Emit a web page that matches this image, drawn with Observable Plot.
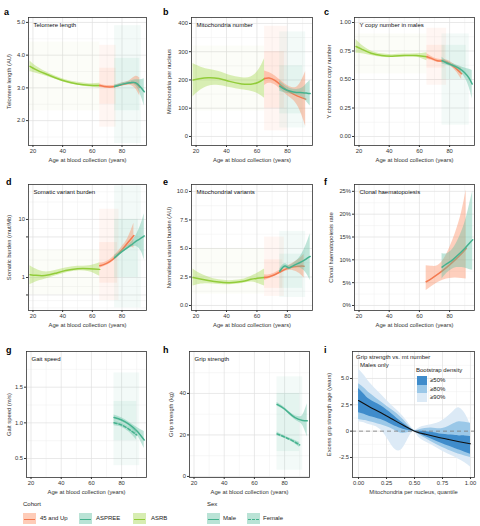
<!DOCTYPE html>
<html><head><meta charset="utf-8">
<script src="https://cdn.jsdelivr.net/npm/d3@7"></script>
<script src="https://cdn.jsdelivr.net/npm/@observablehq/plot@0.6"></script>
<style>
body{margin:0;background:#fff;}
#fig{position:relative;width:480px;height:526px;font-family:"Liberation Sans",Arial,sans-serif;overflow:hidden;background:#fff}
#fig svg{position:absolute}
.letter{position:absolute;font-weight:bold;font-size:9px;line-height:9px;color:#000}
.t{position:absolute;font-size:6px;line-height:7px;color:#222;white-space:nowrap}
.sw{position:absolute}
.sw .ln{position:absolute;left:1px;right:1px;top:50%;height:0;border-top:1.4px solid}
</style></head><body><div id="fig"></div><script>
// ---------- data ----------
const cohorts = ["45 and Up", "ASPREE", "ASRB"];
const cohortFill = ["#fc8d62", "#66c2a5", "#a6d854"];
const cohortLine = ["#f47a50", "#45b28e", "#92cc3a"];
const sexes = ["Male", "Female"];
const ageTicks = [20, 40, 60, 80];
const ageMinor = [30, 50, 70, 90];

// rows: [age, fit, lower, upper]
const telomereASRB = [[18,3.66,3.50,3.82],[22,3.56,3.45,3.67],[28,3.44,3.37,3.51],[35,3.31,3.26,3.36],[42,3.20,3.16,3.25],[50,3.12,3.08,3.17],[58,3.08,3.03,3.13],[65,3.07,3.00,3.14]];
const telomere45Up = [[65,3.07,3.01,3.13],[68,3.04,3.00,3.08],[72,3.03,2.99,3.07],[76,3.05,3.01,3.09],[80,3.10,3.05,3.15],[85,3.15,3.08,3.22],[89,3.15,2.98,3.35],[92,3.02,2.75,3.30]];
const telomereASPREE = [[75,3.04,2.99,3.09],[78,3.08,3.04,3.12],[82,3.13,3.09,3.17],[86,3.16,3.11,3.21],[89,3.16,3.07,3.25],[92,3.05,2.85,3.25],[95,2.88,2.45,3.28]];

const mitoASRB = [[18,200,140,258],[22,204,160,248],[28,208,178,238],[35,205,180,230],[42,195,173,217],[50,186,165,208],[56,185,160,210],[61,192,150,234],[65,205,135,275]];
const mito45Up = [[65,205,180,232],[68,207,188,226],[72,198,182,214],[76,180,164,196],[80,162,145,180],[84,150,128,172],[88,140,95,185],[92,132,35,230]];
const mitoASPREE = [[75,178,160,196],[78,168,155,182],[82,160,150,170],[86,156,146,166],[90,155,138,172],[93,153,120,188],[95,152,108,198]];

const ycnASRB = [[18,0.79,0.73,0.85],[22,0.765,0.725,0.80],[28,0.73,0.71,0.75],[35,0.71,0.695,0.725],[42,0.705,0.692,0.718],[50,0.71,0.697,0.723],[58,0.71,0.695,0.725],[65,0.70,0.665,0.735]];
const ycn45Up = [[65,0.70,0.675,0.725],[68,0.685,0.668,0.702],[72,0.665,0.65,0.68],[76,0.66,0.645,0.675],[80,0.64,0.62,0.66],[84,0.60,0.575,0.625],[88,0.55,0.50,0.60]];
const ycnASPREE = [[75,0.665,0.635,0.695],[78,0.645,0.625,0.665],[82,0.625,0.61,0.64],[86,0.60,0.58,0.62],[90,0.56,0.52,0.60],[93,0.51,0.43,0.59],[95,0.46,0.33,0.58]];

const somASRB = [[18,1.12,0.75,1.6],[22,1.09,0.84,1.4],[28,1.08,0.93,1.25],[35,1.18,1.06,1.32],[42,1.32,1.2,1.46],[50,1.42,1.3,1.56],[58,1.42,1.25,1.6],[65,1.38,1.05,1.8]];
const som45Up = [[65,1.6,1.45,1.78],[68,1.68,1.55,1.82],[72,1.9,1.75,2.05],[76,2.3,2.1,2.55],[80,3.0,2.7,3.4],[84,4.0,3.4,4.8],[88,5.3,3.2,8.6]];
const somASPREE = [[75,2.2,2.0,2.42],[78,2.55,2.38,2.72],[82,3.05,2.85,3.25],[86,3.6,3.3,3.95],[90,4.3,3.4,5.6],[93,4.8,2.8,8.5],[95,5.2,2.0,12.5]];

const mvASRB = [[18,2.45,1.7,3.2],[22,2.35,1.85,2.85],[28,2.2,1.9,2.5],[35,2.05,1.85,2.25],[42,2.0,1.82,2.18],[50,2.1,1.92,2.28],[56,2.3,2.05,2.55],[60,2.38,1.95,2.8],[65,2.45,1.7,3.2]];
const mv45Up = [[65,2.45,2.2,2.7],[68,2.52,2.35,2.7],[72,2.72,2.58,2.88],[76,3.0,2.85,3.15],[80,3.25,3.05,3.45],[84,3.4,3.05,3.75],[88,3.45,2.8,4.1],[91,3.45,2.4,4.5]];
const mvASPREE = [[75,3.0,2.8,3.2],[77,3.35,3.15,3.55],[79,3.45,3.25,3.65],[81,3.3,3.12,3.5],[84,3.5,3.3,3.7],[88,3.75,3.3,4.2],[92,4.05,2.9,5.2],[95,4.3,2.2,6.3]];

const ch45Up = [[64.5,5.2,3.3,8.7],[68,5.9,4.1,8.6],[72,6.8,5.0,8.7],[76,7.8,5.6,10.0],[80,8.9,5.9,12.6],[84,10.1,6.0,16.0],[88,11.4,5.9,20.5],[91,12.5,5.8,25.3]];
const chASPREE = [[75,8.4,5.8,11.4],[78,9.1,7.0,11.3],[82,10.0,8.0,12.3],[86,11.2,8.3,14.6],[90,12.5,8.2,18.0],[93,13.6,7.9,21.8],[95.3,14.4,7.7,25]];

const gaitMale = [[75,1.075,1.04,1.11],[80,1.04,1.01,1.07],[85,0.98,0.95,1.01],[90,0.89,0.84,0.94],[95,0.76,0.64,0.88]];
const gaitFemale = [[75,1.0,0.96,1.04],[80,0.97,0.94,1.0],[85,0.91,0.87,0.95],[90,0.83,0.76,0.9]];
const gripMale = [[75,34.7,33.8,35.6],[80,32.5,31.8,33.2],[85,29.3,28.5,30.1],[89,27.6,26.3,28.9],[92,27.0,24.5,29.5],[95,26.8,19,35]];
const gripFemale = [[75,20.5,19.6,21.4],[80,19.0,18.4,19.6],[85,17.3,16.6,18.0],[90,15.2,14.0,16.4]];

// individual-measurement spread: [cohort, age from, age to, value from, value to, layer]
const telomereSpread = [["ASRB",18,65,2.3,4.4,"outer"],["45 and Up",65,76,1.8,4.3,"outer"],["45 and Up",65,76,2.5,3.6,"core"],["ASPREE",75,93,1.3,4.9,"outer"],["ASPREE",75,92,2.3,3.9,"core"]];
const mitoSpread = [["ASRB",18,65,90,320,"outer"],["45 and Up",65,80,20,390,"outer"],["45 and Up",65,78,100,300,"core"],["ASPREE",75,92,30,370,"outer"],["ASPREE",75,90,80,250,"core"]];
const ycnSpread = [["ASRB",18,65,0.55,0.9,"outer"],["45 and Up",65,78,0.45,0.95,"outer"],["45 and Up",65,77,0.6,0.8,"core"],["ASPREE",75,93,0.1,0.9,"outer"],["ASPREE",75,91,0.5,0.8,"core"]];
const somSpread = [["ASRB",18,65,0.5,3,"outer"],["45 and Up",65,78,0.4,15,"outer"],["45 and Up",65,77,0.8,4,"core"],["ASPREE",75,93,0.3,38,"outer"],["ASPREE",75,91,1,10,"core"]];
const mvSpread = [["ASRB",18,65,1,5,"outer"],["45 and Up",65,78,0.8,6,"outer"],["45 and Up",65,77,1.5,4,"core"],["ASPREE",75,92,0.7,6.5,"outer"],["ASPREE",75,90,1.5,4.5,"core"]];
const gaitSpread = [["ASPREE",75,92,0.4,1.7,"outer"],["ASPREE",75,90,0.75,1.3,"core"]];
const gripSpread = [["ASPREE",75,92,3,48,"outer"],["ASPREE",75,90,12,40,"core"]];

// panel i: quantile, centre line
const mtQuantile = [0,0.1,0.2,0.3,0.4,0.5,0.6,0.7,0.8,0.9,1.0];
const excessAge = [2.9,2.3,1.75,1.15,0.55,0,-0.3,-0.55,-0.78,-1.0,-1.2];
// [quantile, lo50, hi50, lo80, hi80, lo90, hi90]
const bootstrapBands = [
[0.00,1.75,4.05,1.1,4.5,0.9,5.9],[0.05,1.6,3.5,1.0,4.1,0.8,5.3],[0.10,1.4,3.0,0.9,3.6,0.6,4.6],
[0.20,1.1,2.4,0.6,2.8,0.1,3.5],[0.30,0.6,1.6,0.2,2.0,-1.4,2.4],[0.38,0.25,0.9,-0.2,1.3,-1.8,1.6],
[0.45,0.05,0.35,-0.1,0.5,-0.6,0.7],[0.50,-0.03,0.03,-0.06,0.06,-0.1,0.1],[0.55,-0.3,0.0,-0.4,0.15,-0.7,0.35],
[0.65,-0.75,-0.1,-1.0,0.3,-1.3,0.6],[0.75,-1.2,-0.3,-1.55,0.25,-1.9,1.0],[0.85,-1.6,-0.4,-2.0,0.7,-2.4,1.9],
[0.90,-1.8,-0.45,-2.2,0.9,-2.7,2.2],[0.95,-2.0,-0.45,-2.35,0.85,-3.0,1.7],[1.00,-2.2,-0.5,-2.5,0.75,-3.4,0.6]];
const bandNames = ["≥50%", "≥80%", "≥90%"];
const bandColors = ["#3f8ccb", "#9bc8e8", "#dceaf6"];

// ---------- helpers ----------
const fig = document.getElementById("fig");
const FONT = "'Liberation Sans', Arial, sans-serif";
const ci = c => cohorts.indexOf(c);
const toRows = arr => arr.map(([x, y, lo, hi]) => ({x, y, lo, hi}));

function smooth(arr, cohort, dashed) {
  const rows = toRows(arr);
  return [
    Plot.areaY(rows, {x: "x", y1: "lo", y2: "hi", fill: cohortFill[ci(cohort)], fillOpacity: 0.42, curve: "natural", clip: true}),
    Plot.lineY(rows, {x: "x", y: "y", stroke: cohortLine[ci(cohort)], strokeWidth: 1.5, curve: "natural", strokeDasharray: dashed ? "3,2" : null, clip: true})
  ];
}
function spread(arr) {
  const rows = arr.map(([cohort, x1, x2, y1, y2, layer]) => ({cohort, x1, x2, y1, y2, layer}));
  return cohorts.flatMap((c, i) => [
    Plot.rect(rows.filter(d => d.cohort === c && d.layer === "outer"), {x1: "x1", x2: "x2", y1: "y1", y2: "y2", fill: cohortFill[i], fillOpacity: c === "ASRB" ? 0.04 : 0.08, clip: true}),
    Plot.rect(rows.filter(d => d.cohort === c && d.layer === "core"), {x1: "x1", x2: "x2", y1: "y1", y2: "y2", fill: cohortFill[i], fillOpacity: 0.1, clip: true})
  ]);
}
function grid(xMaj, xMin, yMaj, yMin) {
  return [
    Plot.ruleX(xMin, {stroke: "#efefef", strokeWidth: 0.5}),
    Plot.ruleY(yMin, {stroke: "#efefef", strokeWidth: 0.5}),
    Plot.ruleX(xMaj, {stroke: "#e0e0e0", strokeWidth: 0.7}),
    Plot.ruleY(yMaj, {stroke: "#e0e0e0", strokeWidth: 0.7})
  ];
}
function panel(p, marks) {
  const ml = 36, mr = 4, mt = 4, mb = 24;
  const [fx0, fx1, fy0, fy1] = p.frame;
  const svg = Plot.plot({
    width: ml + fx1 - fx0 + mr, height: mt + fy1 - fy0 + mb,
    marginLeft: ml, marginRight: mr, marginTop: mt, marginBottom: mb,
    style: {fontSize: "5.8px", fontFamily: FONT, background: "transparent", color: "#333", overflow: "visible"},
    x: {domain: p.xDomain || [17, 96.5]},
    y: {domain: p.yDomain, type: p.yType || "linear"},
    marks: [
      ...grid(p.xTicks || ageTicks, p.xMinor || ageMinor, p.yTicks, p.yMinor),
      ...marks,
      Plot.text([p.title], {text: d => d, frameAnchor: "top-left", dx: 5, dy: 5, fill: "#111", fontSize: 6}),
      Plot.frame({stroke: "#333", strokeWidth: 0.8}),
      Plot.axisX(p.xTicks || ageTicks, {tickSize: 2, tickPadding: 1.5, label: p.xLabel || "Age at blood collection (years)", labelAnchor: "center", labelOffset: 16, labelArrow: "none", tickFormat: p.xFormat || (d => d)}),
      Plot.axisY(p.yTicks, {tickSize: 2, tickPadding: 1.5, label: p.yLabel, labelAnchor: "center", labelOffset: p.yOff || 24, labelArrow: "none", tickFormat: p.yFormat || (d => d)})
    ]
  });
  svg.style.left = (fx0 - ml) + "px";
  svg.style.top = (fy0 - mt) + "px";
  fig.appendChild(svg);
}
const f1 = d => d.toFixed(1), f2 = d => d.toFixed(2);

// ---------- panels ----------
panel({frame: [28,146,17,145], yDomain: [1.24, 5.15], yTicks: [2,3,4,5], yMinor: [1.5,2.5,3.5,4.5], yFormat: f1,
  title: "Telomere length", yLabel: "Telomere length (AU)", yOff: 22},
  [...spread(telomereSpread), ...smooth(telomereASRB, "ASRB"), ...smooth(telomere45Up, "45 and Up"), ...smooth(telomereASPREE, "ASPREE")]);
panel({frame: [191,312,17,145], yDomain: [-32, 421], yTicks: [0,100,200,300,400], yMinor: [50,150,250,350],
  title: "Mitochondria number", yLabel: "Mitochondria per nucleus", yOff: 25},
  [...spread(mitoSpread), ...smooth(mitoASRB, "ASRB"), ...smooth(mito45Up, "45 and Up"), ...smooth(mitoASPREE, "ASPREE")]);
panel({frame: [354,474,17,145], yDomain: [-0.079, 1.044], yTicks: [0,0.25,0.5,0.75,1], yMinor: [0.125,0.375,0.625,0.875], yFormat: f2,
  title: "Y copy number in males", yLabel: "Y chromosome copy number", yOff: 28},
  [...spread(ycnSpread), ...smooth(ycnASRB, "ASRB"), ...smooth(ycn45Up, "45 and Up"), ...smooth(ycnASPREE, "ASPREE")]);

panel({frame: [28,146,184,310], yDomain: [0.27, 40], yType: "log", yTicks: [0.5,1,5,10], yMinor: [0.3,0.4,0.7,2,3,7,20,30],
  title: "Somatic variant burden", yLabel: "Somatic burden (mut/Mb)", yOff: 22},
  [...spread(somSpread), ...smooth(somASRB, "ASRB"), ...smooth(som45Up, "45 and Up"), ...smooth(somASPREE, "ASPREE")]);
panel({frame: [191,312,184,310], yDomain: [-0.44, 10.61], yTicks: [0,2.5,5,7.5,10], yMinor: [1.25,3.75,6.25,8.75], yFormat: f1,
  title: "Mitochondrial variants", yLabel: "Normalised variant burden (AU)", yOff: 25},
  [...spread(mvSpread), ...smooth(mvASRB, "ASRB"), ...smooth(mv45Up, "45 and Up"), ...smooth(mvASPREE, "ASPREE")]);
panel({frame: [354,474,184,310], yDomain: [-1.1, 26.5], yTicks: [0,5,10,15,20,25], yMinor: [2.5,7.5,12.5,17.5,22.5], yFormat: d => d + "%",
  title: "Clonal haematopoiesis", yLabel: "Clonal haematopoiesis rate", yOff: 26},
  [...smooth(ch45Up, "45 and Up"), ...smooth(chASPREE, "ASPREE")]);

panel({frame: [26,146,351,477], yDomain: [0.234, 2.0], yTicks: [0.5,1,1.5], yMinor: [0.75,1.25,1.75], yFormat: f1,
  title: "Gait speed", yLabel: "Gait speed (m/s)", yOff: 20},
  [...spread(gaitSpread), ...smooth(gaitMale, "ASPREE"), ...smooth(gaitFemale, "ASPREE", true)]);
panel({frame: [189,309,351,477], yDomain: [-0.5, 60.2], yTicks: [0,20,40], yMinor: [10,30,50],
  title: "Grip strength", yLabel: "Grip strength (kg)", yOff: 21},
  [...spread(gripSpread), ...smooth(gripMale, "ASPREE"), ...smooth(gripFemale, "ASPREE", true)]);

const bands = bootstrapBands.map(([q, l50, h50, l80, h80, l90, h90]) => ({q, l50, h50, l80, h80, l90, h90}));
const centre = mtQuantile.map((q, i) => ({q, v: excessAge[i]}));
panel({frame: [352,474,351,477], xDomain: [-0.054, 1.036], xTicks: [0,0.25,0.5,0.75,1], xMinor: [0.125,0.375,0.625,0.875], xFormat: f2,
  xLabel: "Mitochondria per nucleus, quantile",
  yDomain: [-4.4, 7.56], yTicks: [-2.5,0,2.5,5], yMinor: [-1.25,1.25,3.75,6.25], yFormat: d => d === 0 ? "0" : d.toFixed(1),
  title: "", yLabel: "Excess grip strength age (years)", yOff: 26},
  [
    Plot.areaY(bands, {x: "q", y1: "l90", y2: "h90", fill: bandColors[2], curve: "natural"}),
    Plot.areaY(bands, {x: "q", y1: "l80", y2: "h80", fill: bandColors[1], curve: "natural"}),
    Plot.areaY(bands, {x: "q", y1: "l50", y2: "h50", fill: bandColors[0], curve: "natural"}),
    Plot.ruleY([0], {stroke: "#777", strokeWidth: 0.8, strokeDasharray: "4,3"}),
    Plot.lineY(centre, {x: "q", y: "v", stroke: "#111", strokeWidth: 1.1, curve: "natural"})
  ]);

// ---------- letters & legends (HTML) ----------
function el(cls, html, left, top, extra) {
  const d = document.createElement("div"); d.className = cls; d.innerHTML = html;
  d.style.left = left + "px"; d.style.top = top + "px";
  if (extra) Object.assign(d.style, extra);
  fig.appendChild(d); return d;
}
[["a",4,8],["b",163,8],["c",324,8],["d",6,178],["e",163,178],["f",324,178],["g",6,346],["h",163,346],["i",324,346]]
  .forEach(([l, x, y]) => el("letter", l, x, y));

function swatch(left, top, w, h, fill, line, dashed) {
  const d = el("sw", '<div class="ln"></div>', left, top, {width: w + "px", height: h + "px", background: fill});
  const ln = d.firstChild; ln.style.borderTopColor = line; if (dashed) ln.style.borderTopStyle = "dashed";
}
const rgba = (hex, a) => { const c = d3.rgb(hex); return `rgba(${c.r},${c.g},${c.b},${a})`; };

el("t", "Cohort", 23, 501);
const cohortKeyX = [23, 79, 133], cohortLabelX = [40, 96, 151];
cohorts.forEach((c, i) => { swatch(cohortKeyX[i], 513, 13, 11, rgba(cohortFill[i], 0.45), cohortLine[i]); el("t", c, cohortLabelX[i], 515); });
el("t", "Sex", 207, 501);
const sexKeyX = [207, 247], sexLabelX = [223, 263];
sexes.forEach((s, i) => { swatch(sexKeyX[i], 513, 13, 11, rgba(cohortFill[1], 0.45), cohortLine[1], i === 1); el("t", s, sexLabelX[i], 515); });

el("t", "Grip strength vs. mt number", 356, 354);
el("t", "Males only", 360, 362);
el("t", "Bootstrap density", 416, 367);
bandNames.forEach((b, i) => { el("sw", "", 417, 376 + i * 8.5, {width: "10px", height: "8.5px", background: bandColors[i]}); el("t", b, 430, 377 + i * 8.5); });
</script></body></html>
